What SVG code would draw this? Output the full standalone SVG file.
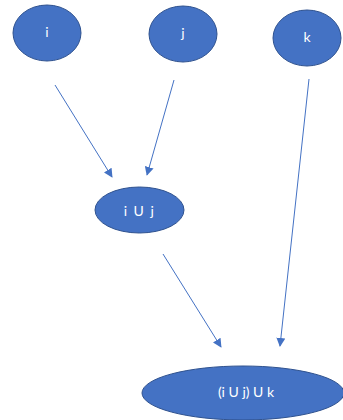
<svg xmlns="http://www.w3.org/2000/svg" width="343" height="420" viewBox="0 0 343 420">
<style>
.n{fill:#4472C4;stroke:#2F528F;stroke-width:1}
.t{fill:#fff;font-family:Lato,"Liberation Sans",sans-serif;font-size:14px;text-anchor:middle;dominant-baseline:central}
.c{stroke:#4472C4;stroke-width:1;fill:none;marker-end:url(#a)}
</style>
<defs>
<marker id="a" viewBox="0 0 10 10" refX="9" refY="5" markerWidth="9" markerHeight="9" markerUnits="userSpaceOnUse" orient="auto">
<path d="M0,0L10,5L0,10z" fill="#4472C4"/>
</marker>
</defs>
<rect width="343" height="420" fill="#fff"/>
<g id="connectors">
<line class="c" x1="55" y1="85" x2="112" y2="177"/>
<line class="c" x1="174" y1="80" x2="147" y2="175"/>
<line class="c" x1="309" y1="79" x2="280" y2="346"/>
<line class="c" x1="163" y1="254" x2="221" y2="347"/>
</g>
<g id="i"><ellipse class="n" cx="47" cy="33" rx="34" ry="28"/><text class="t" x="47" y="31">i</text></g>
<g id="j"><ellipse class="n" cx="183" cy="34" rx="34" ry="28"/><text class="t" x="183" y="32">j</text></g>
<g id="k"><ellipse class="n" cx="307" cy="38" rx="34" ry="28"/><text class="t" x="307" y="36">k</text></g>
<g id="iuj"><ellipse class="n" cx="139.5" cy="210" rx="44.5" ry="23"/><text class="t" x="139.5" y="210" letter-spacing="1.5">i U j</text></g>
<g id="iujuk"><ellipse class="n" cx="243" cy="393" rx="101" ry="27"/><text class="t" x="246" y="391" font-size="15">(i U j) U k</text></g>
</svg>
